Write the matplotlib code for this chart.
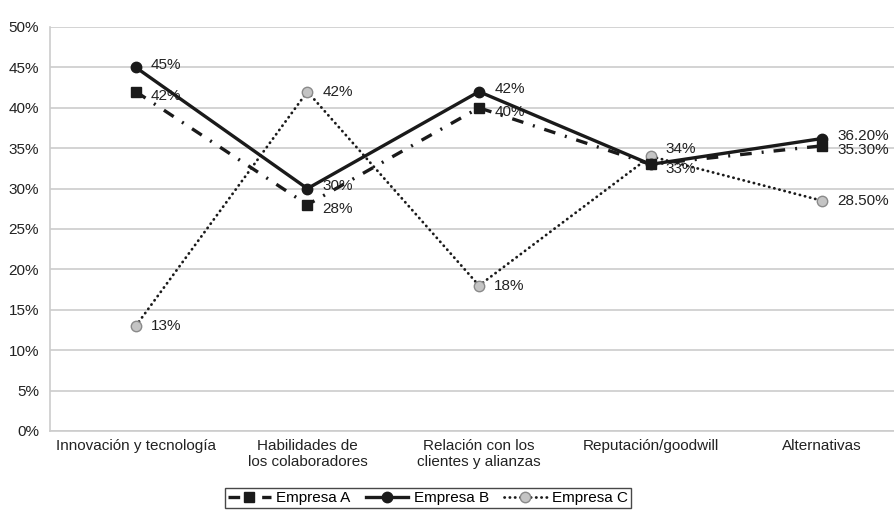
import matplotlib
matplotlib.use("Agg")
import matplotlib.pyplot as plt
import numpy as np

plt.rcParams['font.family'] = ['Liberation Sans', 'DejaVu Sans']

categories = ['Innovación y tecnología', 'Habilidades de\nlos colaboradores',
              'Relación con los\nclientes y alianzas', 'Reputación/goodwill',
              'Alternativas']
empresa_a = [42, 28, 40, 33, 35.3]
empresa_b = [45, 30, 42, 33, 36.2]
empresa_c = [13, 42, 18, 34, 28.5]
labels_a = ['42%', '28%', '40%', '33%', '35.30%']
labels_b = ['45%', '30%', '42%', '33%', '36.20%']
labels_c = ['13%', '42%', '18%', '34%', '28.50%']
yticks = np.arange(0, 55, 5)

fig = plt.figure(figsize=(8.94, 5.27), dpi=100)
ax = fig.add_axes([50/894, 1-431/527, 858/894, (431-27)/527])

x = np.arange(len(categories))

# series styling close to the Excel original
la, = ax.plot(x, empresa_a, color='#1a1a1a', lw=2.4, linestyle=(0, (3.5, 3, 0.6, 3)),
              marker='s', ms=6.5, mfc='#1a1a1a', mec='#1a1a1a', label='Empresa A', zorder=3)
lb, = ax.plot(x, empresa_b, color='#1a1a1a', lw=2.4, linestyle='-',
              marker='o', ms=7.5, mfc='#1a1a1a', mec='#1a1a1a', label='Empresa B', zorder=4)
lc, = ax.plot(x, empresa_c, color='#1a1a1a', lw=2.0, linestyle=(0, (0.1, 1.8)),
              dash_capstyle='round', marker='o', ms=7.5, mfc='#c4c4c4', mec='#8a8a8a',
              mew=1.0, label='Empresa C', zorder=2)

# data labels to the right of each point
# (A and B share 33% at Reputación, the reference prints it on top of each other -> one label)
series = [(empresa_a, labels_a, -3), (empresa_b, labels_b, 2), (empresa_c, labels_c, 0)]
drawn = set()
for vals, labs, dy in series:
    for xi, v, t in zip(x, vals, labs):
        if (xi, v) in drawn:
            continue
        drawn.add((xi, v))
        off = dy
        if xi == 3:
            off = 5 if t == '34%' else -3
        ax.annotate(t, xy=(xi, v), xytext=(11, off), textcoords='offset points',
                    ha='left', va='center', fontsize=11, color='#222222')

ax.set_xlim(-0.5, len(categories) - 0.5)
ax.set_ylim(0, 50)
ax.set_yticks(yticks)
ax.set_yticklabels([f'{v}%' for v in yticks], fontsize=11, color='#222222')
ax.set_xticks(x)
ax.set_xticklabels(categories, fontsize=11, color='#222222', linespacing=1.15)
ax.tick_params(axis='both', length=0, pad=6)
ax.tick_params(axis='y', pad=8)

ax.grid(axis='y', color='#cccccc', lw=1.2)
ax.set_axisbelow(True)
for spine in ['top', 'right']:
    ax.spines[spine].set_visible(False)
ax.spines['left'].set_color('#cccccc')
ax.spines['left'].set_linewidth(1.2)
ax.spines['bottom'].set_color('#cccccc')
ax.spines['bottom'].set_linewidth(1.2)

leg = fig.legend(handles=[la, lb, lc], loc='center', bbox_to_anchor=(428/894, 1-498/527),
                 ncol=3, fontsize=11, frameon=True, fancybox=False, edgecolor='#1a1a1a',
                 handlelength=2.8, columnspacing=1.0, handletextpad=0.35,
                 borderpad=0.2)
leg.get_frame().set_linewidth(1.0)

fig.savefig('out.png', dpi=100)
